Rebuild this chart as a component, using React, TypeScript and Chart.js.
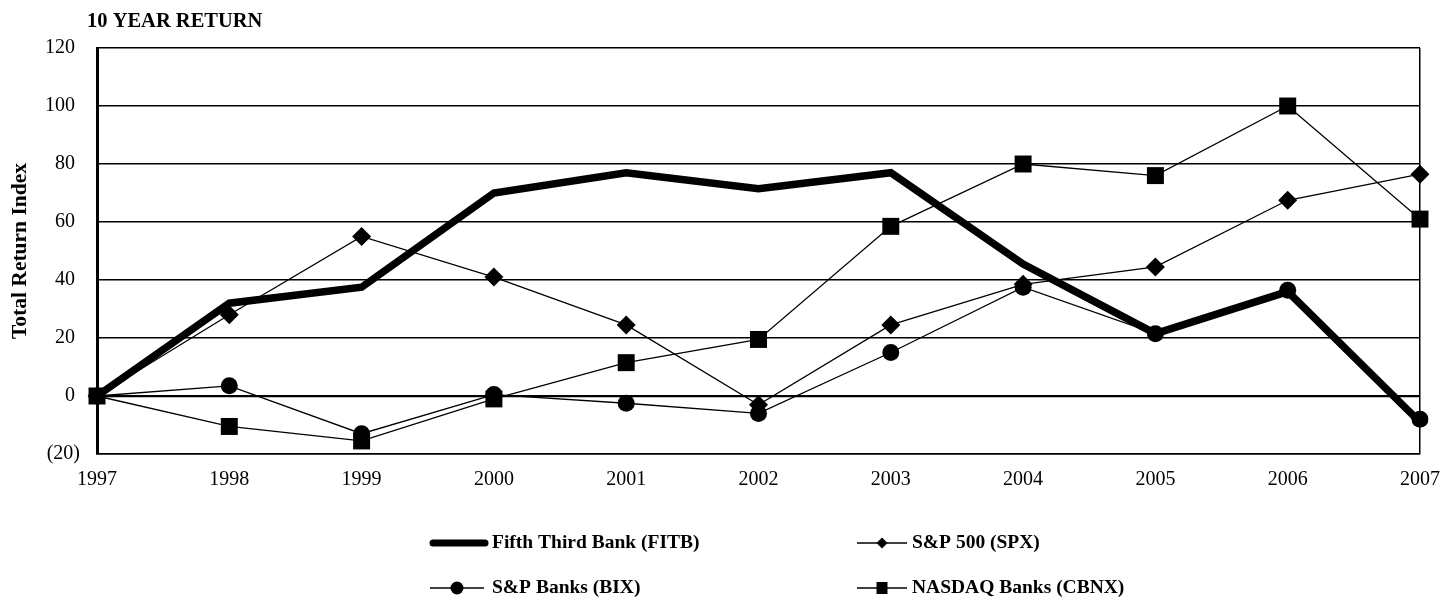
import React, { useEffect, useRef } from "react";
import { Chart, registerables } from "chart.js";

Chart.register(...registerables);

const years = ["1997", "1998", "1999", "2000", "2001", "2002", "2003", "2004", "2005", "2006", "2007"];
const fitb = [0, 32, 37.5, 70, 77, 71.5, 77, 45.5, 21.5, 36, -9];
const spx = [0, 28, 55, 41, 24.5, -3, 24.5, 38.5, 44.5, 67.5, 76.5];
const bix = [0, 3.5, -13, 0.5, -2.5, -6, 15, 37.5, 21.5, 36.5, -8];
const cbnx = [0, -10.5, -15.5, -1, 11.5, 19.5, 58.5, 80, 76, 100, 61];

const titleText = "10 YEAR RETURN";
const yTitle = "Total Return Index";
const seriesNames = ["Fifth Third Bank (FITB)", "S&P 500 (SPX)", "S&P Banks (BIX)", "NASDAQ Banks (CBNX)"];

const FONT = '"Liberation Serif", "Times New Roman", serif';

const decorPlugin = {
  id: "decor",
  afterDraw(chart: any) {
    const ctx = chart.ctx as CanvasRenderingContext2D;
    ctx.save();
    ctx.fillStyle = "#000";
    ctx.strokeStyle = "#000";
    // title
    ctx.font = `bold 20.5px ${FONT}`;
    ctx.textBaseline = "middle";
    ctx.textAlign = "left";
    ctx.fillText(titleText, 87, 22);
    // y axis title
    ctx.save();
    ctx.translate(20, (chart.chartArea.top + chart.chartArea.bottom) / 2);
    ctx.rotate(-Math.PI / 2);
    ctx.textAlign = "center";
    ctx.font = `bold 21.5px ${FONT}`;
    ctx.fillText(yTitle, 0, 0);
    ctx.restore();

    // legend
    const rows = [543, 588];
    const col1 = { x0: 430, x1: 488, tx: 492 };
    const col2 = { x0: 857, x1: 907, tx: 912 };
    ctx.font = `bold 19.5px ${FONT}`;
    ctx.textAlign = "left";
    ctx.textBaseline = "middle";

    // FITB
    ctx.lineCap = "round";
    ctx.lineWidth = 7;
    ctx.beginPath();
    ctx.moveTo(col1.x0 + 3, rows[0]);
    ctx.lineTo(col1.x1 - 3, rows[0]);
    ctx.stroke();
    ctx.fillText(seriesNames[0], col1.tx, rows[0]);

    ctx.lineCap = "butt";
    ctx.lineWidth = 1.5;
    const drawSym = (c: any, y: number, kind: string) => {
      ctx.beginPath();
      ctx.moveTo(c.x0, y);
      ctx.lineTo(c.x1, y);
      ctx.stroke();
      const cx = (c.x0 + c.x1) / 2;
      ctx.beginPath();
      if (kind === "diamond") {
        ctx.moveTo(cx, y - 5.5);
        ctx.lineTo(cx + 5.5, y);
        ctx.lineTo(cx, y + 5.5);
        ctx.lineTo(cx - 5.5, y);
        ctx.closePath();
      } else if (kind === "circle") {
        ctx.arc(cx, y, 6.5, 0, Math.PI * 2);
      } else {
        ctx.rect(cx - 5.5, y - 6, 11, 12);
      }
      ctx.fill();
    };
    drawSym(col2, rows[0], "diamond");
    ctx.fillText(seriesNames[1], col2.tx, rows[0]);
    drawSym({ x0: col1.x0, x1: col1.x1 - 4 }, rows[1], "circle");
    ctx.fillText(seriesNames[2], col1.tx, rows[1]);
    drawSym(col2, rows[1], "square");
    ctx.fillText(seriesNames[3], col2.tx, rows[1]);
    ctx.restore();
  },
};

export default function App() {
  const ref = useRef<HTMLCanvasElement | null>(null);
  useEffect(() => {
    document.body.style.margin = "0";
    document.body.style.background = "#fff";
    if (!ref.current) return;
    const chart = new Chart(ref.current, {
      type: "line",
      data: {
        labels: years,
        datasets: [
          {
            label: seriesNames[0],
            data: fitb,
            borderColor: "#000",
            backgroundColor: "#000",
            borderWidth: 7.5,
            pointRadius: 0,
            borderJoinStyle: "miter",
            tension: 0,
          },
          {
            label: seriesNames[1],
            data: spx,
            borderColor: "#000",
            backgroundColor: "#000",
            borderWidth: 1.3,
            pointStyle: "rectRot",
            pointRadius: 9.5,
            pointBorderWidth: 0,
            pointBackgroundColor: "#000",
            tension: 0,
          },
          {
            label: seriesNames[2],
            data: bix,
            borderColor: "#000",
            backgroundColor: "#000",
            borderWidth: 1.3,
            pointStyle: "circle",
            pointRadius: 8.5,
            pointBorderWidth: 0,
            pointBackgroundColor: "#000",
            tension: 0,
          },
          {
            label: seriesNames[3],
            data: cbnx,
            borderColor: "#000",
            backgroundColor: "#000",
            borderWidth: 1.3,
            pointStyle: "rect",
            pointRadius: 12,
            pointBorderWidth: 0,
            pointBackgroundColor: "#000",
            tension: 0,
          },
        ],
      },
      options: {
        responsive: false,
        maintainAspectRatio: false,
        animation: false,
        layout: { padding: { top: 48, right: 22, left: 0, bottom: 0 } },
        plugins: { legend: { display: false }, tooltip: { enabled: false } },
        scales: {
          x: {
            type: "category",
            offset: false,
            grid: {
              display: true,
              drawTicks: false,
              color: (c: any) => (c.index === years.length - 1 ? "#000" : "rgba(0,0,0,0)"),
              lineWidth: 1.5,
            },
            border: { display: true, color: "#000", width: 1.5 },
            ticks: {
              color: "#000",
              font: { family: FONT, size: 20 },
              padding: 14,
              maxRotation: 0,
              autoSkip: false,
            },
            afterFit: (s: any) => {
              s.height = 162;
              s.paddingLeft = 0;
              s.paddingRight = 0;
            },
          },
          y: {
            min: -20,
            max: 120,
            grid: {
              color: "#000",
              drawTicks: false,
              lineWidth: (c: any) => (c.tick && c.tick.value === 0 ? 2.2 : 1.4),
            },
            border: { display: true, color: "#000", width: 3 },
            ticks: {
              stepSize: 20,
              color: "#000",
              font: { family: FONT, size: 20 },
              padding: 17,
              callback: (v: any) => (v < 0 ? `(${-v})` : `${v} `),
            },
            afterFit: (s: any) => {
              s.width = 97;
              s.paddingTop = 0;
              s.paddingBottom = 0;
            },
          },
        },
      },
      plugins: [decorPlugin],
    });
    return () => chart.destroy();
  }, []);
  return (
    <div style={{ width: 1442, height: 616, position: "relative" }}>
      <canvas ref={ref} width={1442} height={616} style={{ display: "block" }} />
    </div>
  );
}
